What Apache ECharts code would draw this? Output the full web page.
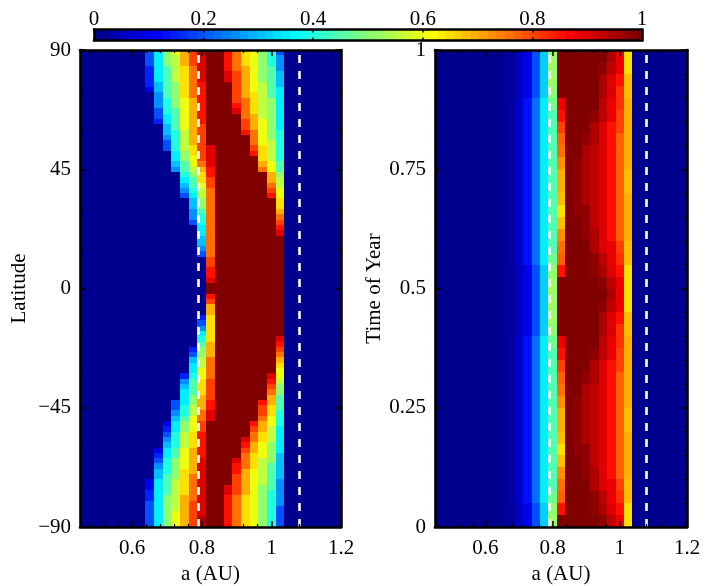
<!DOCTYPE html>
<html>
<head>
<meta charset="utf-8">
<script src="https://cdn.jsdelivr.net/npm/echarts@6/dist/echarts.min.js"></script>
<style>
  html, body { margin: 0; padding: 0; background: #fff; }
  #chart { width: 706px; height: 586px; }
</style>
</head>
<body>
<div id="chart"></div>
<script>
///Data
// semi-major axis of each cell column (AU)
var aCells = [0.45, 0.475, 0.5, 0.525, 0.55, 0.575, 0.6, 0.625, 0.65, 0.675, 0.7, 0.725, 0.75, 0.775,
              0.8, 0.825, 0.85, 0.875, 0.9, 0.925, 0.95, 0.975, 1.0, 1.025, 1.05, 1.075, 1.1, 1.125,
              1.15, 1.175, 1.2];
// latitude of each row of the left map (2 deg rows)
var latCells = [89, 87, 85, 83, 81, 79, 77, 75, 73, 71, 69, 67, 65, 63, 61, 59, 57, 55, 53, 51, 49, 47,
                45, 43, 41, 39, 37, 35, 33, 31, 29, 27, 25, 23, 21, 19, 17, 15, 13, 11, 9, 7, 5, 3, 1,
                -1, -3, -5, -7, -9, -11, -13, -15, -17, -19, -21, -23, -25, -27, -29, -31, -33, -35,
                -37, -39, -41, -43, -45, -47, -49, -51, -53, -55, -57, -59, -61, -63, -65, -67, -69,
                -71, -73, -75, -77, -79, -81, -83, -85, -87, -89];
// time of year of each row of the right map
var timeCells = [0.9875, 0.9625, 0.9375, 0.9125, 0.8875, 0.8625, 0.8375, 0.8125, 0.7875, 0.7625,
                 0.7375, 0.7125, 0.6875, 0.6625, 0.6375, 0.6125, 0.5875, 0.5625, 0.5375, 0.5125,
                 0.4875, 0.4625, 0.4375, 0.4125, 0.3875, 0.3625, 0.3375, 0.3125, 0.2875, 0.2625,
                 0.2375, 0.2125, 0.1875, 0.1625, 0.1375, 0.1125, 0.0875, 0.0625, 0.0375, 0.0125];

// one char per cell, value = index in levelChars * step
var levelChars = '0123456789ABCDEFGHIJKLMNOPQRSTUVWXYZabcde';
var latStep = 0.05;    // left map: '0'..'K' -> 0..1
var timeStep = 0.025;  // right map: '0'..'e' -> 0..1

var latRows = [
  '0000000047ACEGJKKHFDCA840000000',
  '0000000047ABEGIKKHFDCA850000000',
  '0000000047ABEGIKKHFDCA850000000',
  '00000000379BDFIKKHFECA950000000',
  '00000000379BDFIKKIGECA960000000',
  '00000000379BDFIKKIGECA960000000',
  '00000000369ADFHKKKGECB960000000',
  '00000000269ADFHKKKGECB970000000',
  '00000000059ADFHKKKGEDB970000000',
  '00000000058ACEHKKKGFDBA70000000',
  '00000000058ACEHKKKHFDBA70000000',
  '000000000489CEHKKKIFDBA70000000',
  '000000000479CEHKKKKFEBA70000000',
  '000000000379CEHKKKKGECA70000000',
  '000000000069CEGKKKKGECA70000000',
  '000000000068BEGKKKKHFCA80000000',
  '000000000058BEGKKKKKFCA80000000',
  '000000000048BEGKKKKKFCB80000000',
  '000000000048BDGIKKKKGDB80000000',
  '000000000007ADGIKKKKHDB80000000',
  '000000000007ACGIKKKKKDB80000000',
  '0000000000069CFIKKKKKEC90000000',
  '0000000000059BEHKKKKKFC90000000',
  '0000000000008ADHKKKKKKEA0000000',
  '00000000000079DGKKKKKKEB0000000',
  '00000000000069CGKKKKKKFB0000000',
  '00000000000058BFKKKKKKGC0000000',
  '00000000000047BFKKKKKKHC0000000',
  '00000000000006AFKKKKKKKD0000000',
  '00000000000006AFKKKKKKKD0000000',
  '000000000000059FKKKKKKKE0000000',
  '000000000000058FKKKKKKKF0000000',
  '000000000000048FKKKKKKKG0000000',
  '000000000000007FKKKKKKKH0000000',
  '000000000000007FKKKKKKKI0000000',
  '000000000000006FKKKKKKKK0000000',
  '000000000000006FKKKKKKKK0000000',
  '000000000000005FKKKKKKKK0000000',
  '000000000000004FKKKKKKKK0000000',
  '000000000000000GKKKKKKKK0000000',
  '000000000000000GKKKKKKKK0000000',
  '000000000000000HKKKKKKKK0000000',
  '000000000000000HKKKKKKKK0000000',
  '000000000000000IKKKKKKKK0000000',
  '000000000000000KKKKKKKKK0000000',
  '000000000000000KKKKKKKKK0000000',
  '000000000000000HKKKKKKKK0000000',
  '000000000000000GKKKKKKKK0000000',
  '000000000000000EKKKKKKKK0000000',
  '000000000000000EKKKKKKKK0000000',
  '000000000000003DKKKKKKKK0000000',
  '000000000000004DKKKKKKKK0000000',
  '000000000000005DKKKKKKKK0000000',
  '000000000000007DKKKKKKKK0000000',
  '000000000000008DKKKKKKKI0000000',
  '000000000000009EKKKKKKKH0000000',
  '00000000000003AEKKKKKKKG0000000',
  '00000000000004AEKKKKKKKF0000000',
  '00000000000006BFKKKKKKKE0000000',
  '00000000000007BFKKKKKKKD0000000',
  '00000000000007CFKKKKKKKC0000000',
  '00000000000038CFKKKKKKIC0000000',
  '00000000000059DGKKKKKKHB0000000',
  '00000000000069DGKKKKKKGA0000000',
  '00000000000079DGKKKKKKFA0000000',
  '0000000000007AEGKKKKKKE90000000',
  '0000000000047AEHKKKKKHE90000000',
  '0000000000048BEHKKKKKGD90000000',
  '0000000000058BFIKKKKKGD80000000',
  '0000000000069CFIKKKKKFC80000000',
  '000000000027ACGKKKKKHEC80000000',
  '000000000037ACGKKKKKGEB70000000',
  '000000000048BDHKKKKKFDB70000000',
  '000000000058BDHKKKKIFDB70000000',
  '000000000068BDHKKKKHECA70000000',
  '000000000279CEHKKKKGECA70000000',
  '000000000379CEHKKKKFDCA60000000',
  '00000000048ACEIKKKIFDBA60000000',
  '00000000058ACEIKKKHFDB960000000',
  '00000000068ADEIKKKHECB960000000',
  '00000000069ADFIKKKGECB960000000',
  '00000000279BDFIKKKGECB950000000',
  '00000000279BDFIKKIGECA950000000',
  '00000000379BDFIKKIGECA850000000',
  '0000000037ABEFIKKHFDCA850000000',
  '0000000047ABEGIKKHFDCA850000000',
  '0000000047ABEGIKKHFDCA840000000',
  '0000000047ACEGIKKHFDCA840000000',
  '0000000047ACEGJKKHFDCA840000000',
  '0000000047ACEGJKKHFDCA840000000'
];

var timeRows = [
  '0000000001248DLeeeeeecZQ0000000',
  '0000000001248DLeeeeedbZQ0000000',
  '0000000001248DLeeeeecaYR0000000',
  '0000000001248DKeeeeecaXR0000000',
  '0000000001359EJZeeeebZXS0000000',
  '0000000001359EIYeeedbZWS0000000',
  '0000000001359EIWeeecaYWS0000000',
  '0000000001359EIVeedcaYVS0000000',
  '0000000001359EIUeecbaYVS0000000',
  '0000000001359EITedcbaYVS0000000',
  '0000000001359EISedcbaYVR0000000',
  '0000000001359EISedcbaYVR0000000',
  '0000000001359EIRedcbaYVS0000000',
  '0000000001359EIQeddbaYVS0000000',
  '0000000001359EIReedbaYVS0000000',
  '0000000001359EITeedcaYVS0000000',
  '0000000001359EIUeeecaZWR0000000',
  '0000000001359EJVeeedbZXR0000000',
  '0000000001248DKYeeedcaYQ0000000',
  '0000000001248DLeeeeedbZQ0000000',
  '0000000001248DLeeeeeecZQ0000000',
  '0000000001248DLeeeeedbZQ0000000',
  '0000000001248DLeeeeecaYR0000000',
  '0000000001248DKeeeeecaXR0000000',
  '0000000001359EJZeeeebZXS0000000',
  '0000000001359EIYeeedbZWS0000000',
  '0000000001359EIWeeecaYWS0000000',
  '0000000001359EIVeedcaYVS0000000',
  '0000000001359EIUeecbaYVS0000000',
  '0000000001359EITedcbaYVS0000000',
  '0000000001359EISedcbaYVR0000000',
  '0000000001359EISedcbaYVR0000000',
  '0000000001359EIRedcbaYVS0000000',
  '0000000001359EIQeddbaYVS0000000',
  '0000000001359EIReedbaYVS0000000',
  '0000000001359EITeedcaYVS0000000',
  '0000000001359EIUeeecaZWR0000000',
  '0000000001359EJVeeedbZXR0000000',
  '0000000001248DKYeeedcaYQ0000000',
  '0000000001248DLeeeeedbZQ0000000'
];

// dashed white lines (AU)
var hzEdges = [0.785, 1.077];
// ticks
var aTicks = [0.6, 0.8, 1, 1.2];
var aMinorTicks = [0.48, 0.52, 0.56, 0.64, 0.68, 0.72, 0.76, 0.84, 0.88, 0.92, 0.96, 1.04, 1.08, 1.12, 1.16];
var latMinorTicks = [-75, -60, -30, -15, 15, 30, 60, 75];
var timeMinorTicks = [0.05, 0.1, 0.15, 0.2, 0.3, 0.35, 0.4, 0.45, 0.55, 0.6, 0.65, 0.7, 0.8, 0.85, 0.9, 0.95];
var barTicks = [0, 0.2, 0.4, 0.6, 0.8, 1];


///Colormap (MATLAB jet, 64 levels)
function makeJet() {
    var u = [], k, c;
    for (k = 1; k <= 16; k++) u.push(k / 16);
    for (k = 1; k <= 15; k++) u.push(1);
    for (k = 16; k >= 1; k--) u.push(k / 16);
    var cols = [];
    for (c = 0; c < 64; c++) {
        var r = c >= 24 ? u[c - 24] : 0;
        var g = (c >= 8 && c <= 54) ? u[c - 8] : 0;
        var b = c <= 38 ? u[c + 8] : 0;
        cols.push('rgb(' + Math.round(r * 255) + ',' + Math.round(g * 255) + ',' + Math.round(b * 255) + ')');
    }
    return cols;
}
var jet = makeJet();

function jetColor(v) {
    var i = Math.floor(v * 64);
    if (i > 63) i = 63;
    if (i < 0) i = 0;
    return jet[i];
}


///Build cells
function buildCells(rows, yCells, step) {
    var out = [];
    rows.forEach(function (row, i) {
        for (var j = 0; j < aCells.length; j++) {
            out.push([aCells[j], yCells[i], levelChars.indexOf(row.charAt(j)) * step]);
        }
    });
    return out;
}
var latData = buildCells(latRows, latCells, latStep);
var timeData = buildCells(timeRows, timeCells, timeStep);


// snapped rects so neighbouring cells share whole-pixel edges (no seams)
function cellRenderer(halfW, halfH) {
    return function (params, api) {
        var a = api.value(0), y = api.value(1), v = api.value(2);
        var p0 = api.coord([a - halfW, y + halfH]);
        var p1 = api.coord([a + halfW, y - halfH]);
        var cs = params.coordSys;
        var x0 = Math.round(Math.max(p0[0], cs.x)), x1 = Math.round(Math.min(p1[0], cs.x + cs.width));
        var y0 = Math.round(Math.max(p0[1], cs.y)), y1 = Math.round(Math.min(p1[1], cs.y + cs.height));
        if (x1 <= x0 || y1 <= y0) return;
        return {
            type: 'rect',
            shape: { x: x0, y: y0, width: x1 - x0, height: y1 - y0 },
            style: { fill: jetColor(v) }
        };
    };
}


///Axes helpers
var font = { fontFamily: 'Liberation Serif', fontSize: 21, color: '#000' };
var black = { color: '#000', width: 2.6 };

function minus(v) {
    return v < 0 ? '\u2212' + (-v) : '' + v;
}

function aAxis(grid, pos, withLabels) {
    return {
        type: 'value', gridIndex: grid, position: pos, min: 0.45, max: 1.2, z: 10,
        splitLine: { show: false },
        axisLine: { show: true, onZero: false, lineStyle: black },
        axisTick: { show: true, inside: true, length: 6, customValues: aTicks, lineStyle: { color: '#000', width: 1.5 } },
        axisLabel: withLabels ? Object.assign({ margin: 11, customValues: aTicks }, font) : { show: false },
        name: withLabels ? 'a (AU)' : '',
        nameLocation: 'middle', nameGap: 37,
        nameTextStyle: font
    };
}

function minorX(grid, pos) {
    return {
        type: 'value', gridIndex: grid, position: pos, min: 0.45, max: 1.2, z: 10,
        splitLine: { show: false }, axisLine: { show: false, onZero: false }, axisLabel: { show: false },
        axisTick: { show: true, inside: true, length: 3, customValues: aMinorTicks, lineStyle: { color: '#000', width: 1.2 } }
    };
}

function yAxisOf(grid, pos, min, max, interval, name, gap, withLabels) {
    return {
        type: 'value', gridIndex: grid, position: pos, min: min, max: max, interval: interval, z: 10,
        splitLine: { show: false },
        axisLine: { show: true, onZero: false, lineStyle: black },
        axisTick: { show: true, inside: true, length: 6, lineStyle: { color: '#000', width: 1.5 } },
        axisLabel: withLabels ? Object.assign({ margin: 9, formatter: minus }, font) : { show: false },
        name: withLabels ? name : '',
        nameLocation: 'middle', nameGap: gap, nameRotate: 90,
        nameTextStyle: font
    };
}

function minorY(grid, pos, min, max, ticks) {
    return {
        type: 'value', gridIndex: grid, position: pos, min: min, max: max, z: 10,
        splitLine: { show: false }, axisLine: { show: false, onZero: false }, axisLabel: { show: false },
        axisTick: { show: true, inside: true, length: 3, customValues: ticks, lineStyle: { color: '#000', width: 1.2 } }
    };
}

var dashed = {
    symbol: 'none', silent: true, label: { show: false },
    lineStyle: { color: '#fff', type: [8, 8], width: 2.6, opacity: 1 },
    data: hzEdges.map(function (x) { return { xAxis: x }; })
};


///Chart
var chart = echarts.init(document.getElementById('chart'), null, { renderer: 'canvas' });

var option = {
    animation: false,
    backgroundColor: '#fff',
    grid: [
        { left: 80, top: 50, width: 261, height: 477, outerBoundsMode: 'none', containLabel: false },
        { left: 435, top: 50, width: 252, height: 477, outerBoundsMode: 'none', containLabel: false },
        { left: 94, top: 29.5, width: 548, height: 11, outerBoundsMode: 'none', containLabel: false }
    ],
    xAxis: [
        aAxis(0, 'bottom', true),
        aAxis(0, 'top', false),
        aAxis(1, 'bottom', true),
        aAxis(1, 'top', false),
        {
            type: 'value', gridIndex: 2, position: 'top', min: 0, max: 1, z: 10,
            splitLine: { show: false },
            axisLine: { show: true, onZero: false, lineStyle: black },
            axisTick: { show: true, inside: true, length: 3, customValues: barTicks, lineStyle: { color: '#000', width: 1.5 } },
            axisLabel: Object.assign({ margin: 0, customValues: barTicks }, font)
        },
        {
            type: 'value', gridIndex: 2, position: 'bottom', min: 0, max: 1, z: 10,
            splitLine: { show: false },
            axisLine: { show: true, onZero: false, lineStyle: black },
            axisTick: { show: true, inside: true, length: 3, customValues: barTicks, lineStyle: { color: '#000', width: 1.5 } },
            axisLabel: { show: false }
        },
        minorX(0, 'bottom'),
        minorX(0, 'top'),
        minorX(1, 'bottom'),
        minorX(1, 'top')
    ],
    yAxis: [
        yAxisOf(0, 'left', -90, 90, 45, 'Latitude', 50, true),
        yAxisOf(0, 'right', -90, 90, 45, '', 0, false),
        yAxisOf(1, 'left', 0, 1, 0.25, 'Time of Year', 48, true),
        yAxisOf(1, 'right', 0, 1, 0.25, '', 0, false),
        {
            type: 'value', gridIndex: 2, position: 'left', min: 0, max: 1, z: 10,
            splitLine: { show: false }, axisTick: { show: false }, axisLabel: { show: false },
            axisLine: { show: true, onZero: false, lineStyle: black }
        },
        {
            type: 'value', gridIndex: 2, position: 'right', min: 0, max: 1, z: 10,
            splitLine: { show: false }, axisTick: { show: false }, axisLabel: { show: false },
            axisLine: { show: true, onZero: false, lineStyle: black }
        },
        minorY(0, 'left', -90, 90, latMinorTicks),
        minorY(0, 'right', -90, 90, latMinorTicks),
        minorY(1, 'left', 0, 1, timeMinorTicks),
        minorY(1, 'right', 0, 1, timeMinorTicks)
    ],
    series: [
        {
            type: 'custom', xAxisIndex: 0, yAxisIndex: 0,
            renderItem: cellRenderer(0.0125, 1),
            data: latData,
            markLine: dashed
        },
        {
            type: 'custom', xAxisIndex: 2, yAxisIndex: 2,
            renderItem: cellRenderer(0.0125, 0.0125),
            data: timeData,
            markLine: dashed
        },
        {
            // colour bar: one rect per colormap level
            type: 'custom', xAxisIndex: 4, yAxisIndex: 4,
            renderItem: function (params, api) {
                var i = api.value(0);
                var p0 = api.coord([i / 64, 1]);
                var p1 = api.coord([(i + 1) / 64, 0]);
                var x0 = Math.round(p0[0]), x1 = Math.round(p1[0]);
                return {
                    type: 'rect',
                    shape: { x: x0, y: p0[1], width: x1 - x0, height: p1[1] - p0[1] },
                    style: { fill: jet[i] }
                };
            },
            data: jet.map(function (c, i) { return [i]; })
        }
    ]
};

chart.setOption(option);
window.onresize = function () {
    chart.resize();
};
</script>
</body>
</html>
